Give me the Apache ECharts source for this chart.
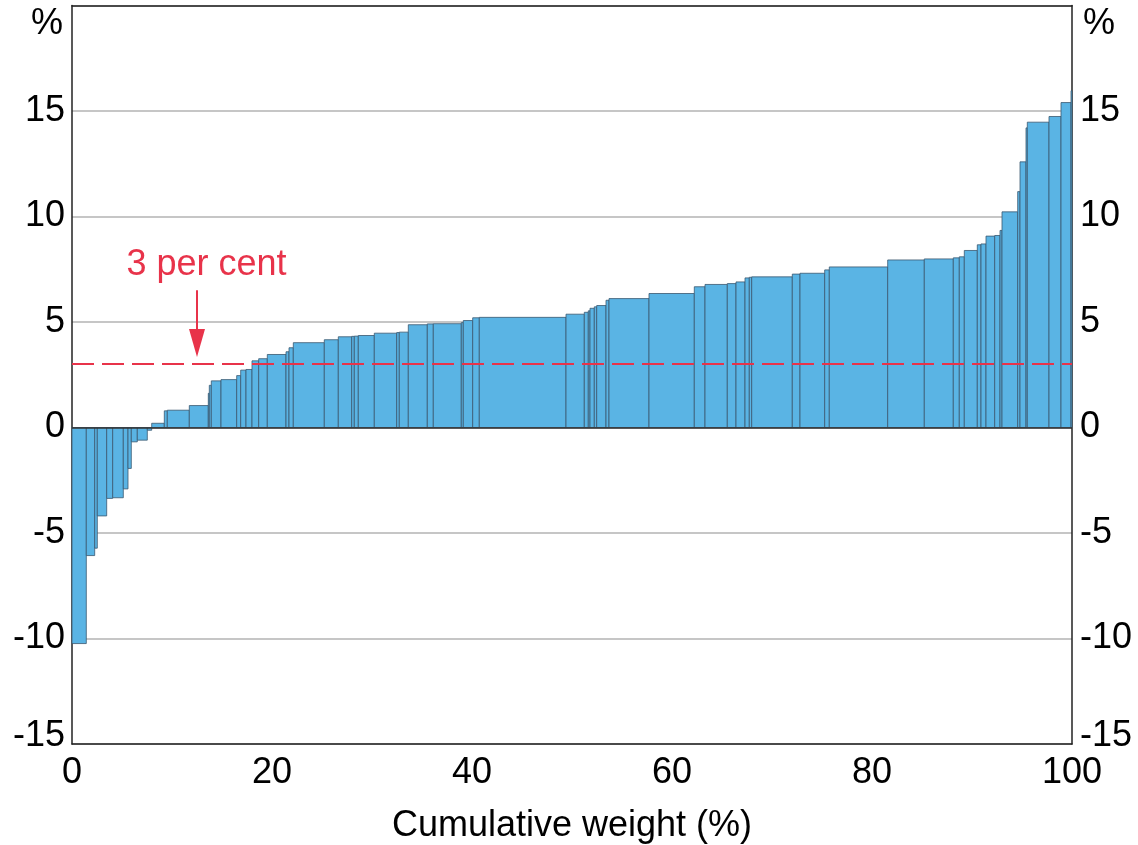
<!DOCTYPE html>
<html>
<head>
<meta charset="utf-8">
<script src="https://cdn.jsdelivr.net/npm/echarts@6/dist/echarts.min.js"></script>
<style>
html,body{margin:0;padding:0;background:#fff;}
#chart{width:1138px;height:845px;}
</style>
</head>
<body>
<div id="chart"></div>
<script>
// Weights (% of basket) of each component, sorted by value
var weights = [1.43,0.84,0.26,0.94,0.60,1.06,0.47,0.33,0.60,1.00,
  0.44,1.26,0.30,2.20,1.90,0.10,0.20,0.97,1.57,0.40,
  0.53,0.60,0.67,0.86,1.87,0.30,0.43,3.10,1.40,1.34,
  0.26,0.40,1.60,2.24,0.26,0.90,1.90,0.60,2.80,0.20,
  0.94,0.66,8.67,1.83,0.40,0.17,0.43,0.24,0.93,0.30,
  4.00,4.53,1.07,2.23,0.87,0.90,0.43,0.24,4.06,0.77,
  2.47,0.46,5.84,3.66,2.90,0.60,0.50,1.30,0.37,0.50,
  0.87,0.53,0.20,1.57,0.23,0.60,0.13,2.17,1.20,1.00,0.10];
// Values (%) of each component
var values = [-10.24,-6.07,-5.72,-4.19,-3.36,-3.33,-2.91,-1.94,-0.68,-0.60,
  -0.13,0.20,0.79,0.82,1.04,1.62,2.00,2.21,2.27,2.46,
  2.72,2.75,3.16,3.26,3.46,3.59,3.78,4.02,4.16,4.30,
  4.32,4.33,4.36,4.47,4.50,4.52,4.87,4.91,4.92,4.97,
  5.07,5.20,5.22,5.37,5.46,5.53,5.65,5.72,5.78,6.03,
  6.11,6.35,6.67,6.78,6.82,6.90,7.09,7.12,7.14,7.27,
  7.31,7.47,7.61,7.94,7.99,8.04,8.09,8.39,8.66,8.70,
  9.07,9.10,9.34,10.22,11.18,12.59,14.20,14.47,14.74,15.40,15.96];
var yTicks = [-15,-10,-5,0,5,10,15];
var xTicks = [0,20,40,60,80,100];
var threshold = 3;
var annotation = '3 per cent';
var arrowX = 12.5, arrowTop = 6.5, arrowHeadCentre = 4.0;

var data = [];
var cum = 0;
for (var i = 0; i < weights.length; i++) {
  data.push([cum, cum + weights[i], values[i]]);
  cum += weights[i];
}
var total = cum;
data = data.map(function(d){ return [d[0]*100/total, d[1]*100/total, d[2]]; });

var chart = echarts.init(document.getElementById('chart'));
var font = 'Liberation Sans, Arial, sans-serif';
var RED = '#e8334a';
var FS = 36;
function yFmt(v) {
  if (yTicks.indexOf(v) < 0) return '';
  if (v === yTicks[0]) return '{lo|' + v + '}';
  return String(v);
}
var yRich = {lo: {fontSize: FS, color: '#000', fontFamily: font, padding: [0, 0, 16, 0]}};
chart.setOption({
  animation: false,
  grid: {left: 72, right: 66, top: 5.5, bottom: 101, containLabel: false, outerBoundsMode: 'none'},
  xAxis: [{
    type: 'value', min: 0, max: 100, interval: 20,
    axisLine: {show: true, onZero: false, lineStyle: {color: '#222', width: 1.5}},
    axisTick: {show: false},
    splitLine: {show: false},
    axisLabel: {fontSize: FS, color: '#000', fontFamily: font, margin: 11,
      formatter: function(v){ return xTicks.indexOf(v) >= 0 ? String(v) : ''; }},
    name: 'Cumulative weight (%)', nameLocation: 'middle', nameGap: 64,
    nameTextStyle: {fontSize: FS, color: '#000', fontFamily: font}
  }, {
    type: 'value', min: 0, max: 100, position: 'top',
    axisLine: {show: true, onZero: false, lineStyle: {color: '#222', width: 1.5}},
    axisTick: {show: false}, axisLabel: {show: false}, splitLine: {show: false}
  }],
  yAxis: [{
    type: 'value', min: -15, max: 20, interval: 5,
    axisLine: {show: true, onZero: false, lineStyle: {color: '#222', width: 1.5}},
    axisTick: {show: false},
    splitLine: {show: true, lineStyle: {color: '#b3b3b3', width: 1.5}},
    axisLabel: {fontSize: FS, color: '#000', fontFamily: font, margin: 7, formatter: yFmt, rich: yRich}
  }, {
    type: 'value', min: -15, max: 20, interval: 5, position: 'right',
    axisLine: {show: true, onZero: false, lineStyle: {color: '#222', width: 1.5}},
    axisTick: {show: false},
    splitLine: {show: false},
    axisLabel: {fontSize: FS, color: '#000', fontFamily: font, margin: 8, formatter: yFmt, rich: yRich}
  }],
  series: [{
    type: 'custom',
    data: data,
    encode: {x: [0, 1], y: 2},
    renderItem: function(params, api) {
      var x0 = api.value(0), x1 = api.value(1), v = api.value(2);
      var p0 = api.coord([x0, Math.max(v, 0)]);
      var p1 = api.coord([x1, Math.min(v, 0)]);
      return {
        type: 'rect',
        shape: {x: p0[0], y: p0[1], width: p1[0] - p0[0], height: p1[1] - p0[1]},
        style: {fill: '#5ab4e4', stroke: '#3a5870', lineWidth: 0.8}
      };
    },
    markLine: {
      silent: true, symbol: ['none', 'none'], animation: false,
      label: {show: false},
      data: [
        {yAxis: 0, lineStyle: {color: '#333', width: 1.5, type: 'solid'}},
        {yAxis: threshold, lineStyle: {color: RED, width: 1.8, type: [22, 8]}},
        [{coord: [arrowX, arrowTop], symbol: 'none', lineStyle: {color: RED, width: 2, type: 'solid'}},
         {coord: [arrowX, arrowHeadCentre], symbol: 'triangle', symbolSize: [16, 28], symbolRotate: 180}]
      ]
    },
    z: 2
  }]
});

var tp = chart.convertToPixel({xAxisIndex: 0, yAxisIndex: 0}, [arrowX + 0.95, arrowTop + 1.2]);
var topLeft = chart.convertToPixel({xAxisIndex: 0, yAxisIndex: 0}, [0, 20]);
var topRight = chart.convertToPixel({xAxisIndex: 0, yAxisIndex: 0}, [100, 20]);
chart.setOption({
  graphic: [
    {type: 'text', x: tp[0], y: tp[1], style: {text: annotation, fill: RED, fontSize: FS, fontFamily: font, align: 'center', verticalAlign: 'middle'}},
    {type: 'text', x: topLeft[0] - 25, y: topLeft[1] + 19, style: {text: '%', fill: '#000', fontSize: FS, fontFamily: font, align: 'center', verticalAlign: 'middle'}},
    {type: 'text', x: topRight[0] + 27, y: topRight[1] + 19, style: {text: '%', fill: '#000', fontSize: FS, fontFamily: font, align: 'center', verticalAlign: 'middle'}}
  ]
});
</script>
</body>
</html>
